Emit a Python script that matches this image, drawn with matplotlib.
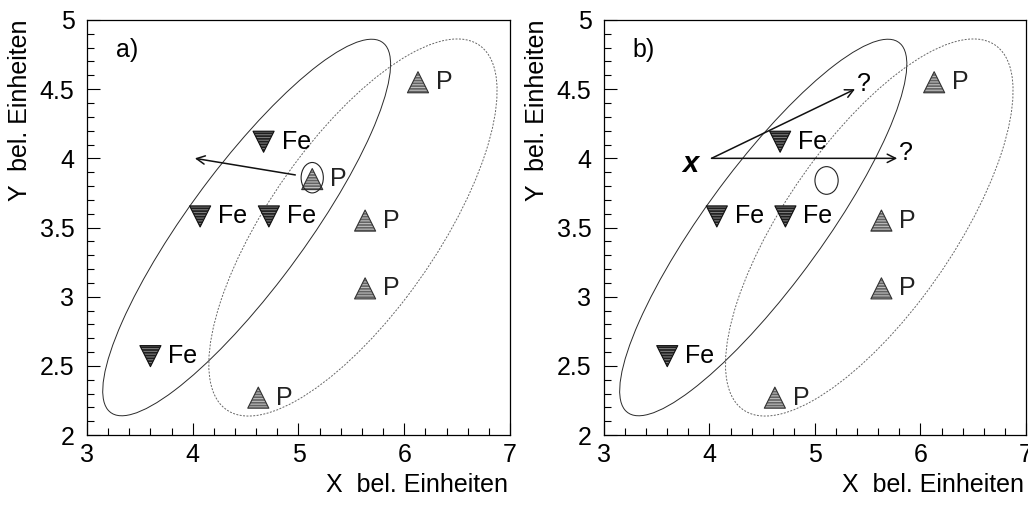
import matplotlib
matplotlib.use("Agg")
import matplotlib.pyplot as plt
from matplotlib.patches import Ellipse
from matplotlib.ticker import MultipleLocator

plt.rcParams['font.family'] = ['Liberation Sans', 'DejaVu Sans']
plt.rcParams['hatch.linewidth'] = 0.8

FS = 18

# event positions in the X/Y plane
fe_x = [4.67, 4.07, 4.72, 3.60]
fe_y = [4.12, 3.58, 3.58, 2.57]
p_x = [6.13, 5.13, 5.63, 5.63, 4.62]
p_y = [4.55, 3.85, 3.55, 3.06, 2.27]
# the second proton is the ambiguous one; it is left out in panel b
p_keep_b = [True, False, True, True, True]

# class regions: (center x, center y, width, height, angle)
fe_region = (4.51, 3.50, 3.72, 0.99, 45)
p_region = (5.515, 3.50, 3.58, 1.43, 45)

# test point and its two candidate directions
test_pt = (4.02, 4.00)
test_dirs = [(5.38, 4.50), (5.78, 4.00)]


def draw_panel(ax, tag, px, py):
    ax.set_xlim(3, 7)
    ax.set_ylim(2, 5)
    ax.xaxis.set_major_locator(MultipleLocator(1))
    ax.xaxis.set_minor_locator(MultipleLocator(0.2))
    ax.yaxis.set_minor_locator(MultipleLocator(0.1))
    ax.tick_params(which='both', direction='in', top=False, right=False,
                   labelsize=FS, width=0.8)
    ax.tick_params(which='major', length=9)
    ax.tick_params(which='minor', length=5)
    ax.tick_params(axis='x', pad=6)
    ax.tick_params(axis='y', pad=9)
    ax.set_yticks([2, 2.5, 3, 3.5, 4, 4.5, 5], ['2', '2.5', '3', '3.5', '4', '4.5', '5'])
    for s in ax.spines.values():
        s.set_linewidth(0.9)

    cx, cy, w, h, ang = fe_region
    ax.add_patch(Ellipse((cx, cy), w, h, angle=ang, fill=False,
                         edgecolor='#2a2a2a', linewidth=0.7))
    cx, cy, w, h, ang = p_region
    ax.add_patch(Ellipse((cx, cy), w, h, angle=ang, fill=False,
                         edgecolor='#666666', linewidth=0.7, linestyle=(0, (2, 1.5))))

    ax.scatter(fe_x, fe_y, marker='v', s=230, facecolor='#1e1e1e',
               edgecolor='#7a7a7a', hatch='------', linewidth=0, zorder=3)
    ax.scatter(fe_x, fe_y, marker='v', s=230, facecolor='none',
               edgecolor='#111111', linewidth=0.8, zorder=4)
    ax.scatter(px, py, marker='^', s=230, facecolor='#636363',
               edgecolor='#bdbdbd', hatch='------', linewidth=0, zorder=3)
    ax.scatter(px, py, marker='^', s=230, facecolor='none',
               edgecolor='#333333', linewidth=0.8, zorder=4)

    for x, y in zip(fe_x, fe_y):
        ax.annotate('Fe', (x, y), xytext=(13, 0), textcoords='offset points',
                    fontsize=FS, va='center', ha='left')
    for x, y in zip(px, py):
        ax.annotate('P', (x, y), xytext=(13, 0), textcoords='offset points',
                    fontsize=FS, va='center', ha='left', color='#222222')

    ax.text(3.27, 4.78, tag, fontsize=FS, ha='left', va='center')
    ax.text(-0.158, 1.0, 'Y  bel. Einheiten', transform=ax.transAxes,
            rotation=90, ha='center', va='top', fontsize=FS)
    ax.text(0.995, -0.12, 'X  bel. Einheiten', transform=ax.transAxes,
            ha='right', va='center', fontsize=FS)


fig = plt.figure(figsize=(10.28, 5.05), dpi=100)
ax_a = fig.add_axes([0.0846, 0.1386, 0.4115, 0.8218])
ax_b = fig.add_axes([0.5875, 0.1386, 0.4105, 0.8218])

draw_panel(ax_a, 'a)', p_x, p_y)
ax_a.add_patch(Ellipse((p_x[1], p_y[1] + 0.01), 0.21, 0.22, fill=False,
                       edgecolor='#222222', linewidth=0.8, zorder=5))
ax_a.annotate('', xy=(4.02, 4.00), xytext=(4.97, 3.88),
              arrowprops=dict(arrowstyle='->', color='#111111', lw=1.1,
                              shrinkA=0, shrinkB=0, mutation_scale=15))

pb_x = [x for x, k in zip(p_x, p_keep_b) if k]
pb_y = [y for y, k in zip(p_y, p_keep_b) if k]
draw_panel(ax_b, 'b)', pb_x, pb_y)
ax_b.add_patch(Ellipse((5.11, 3.84), 0.22, 0.20, fill=False, edgecolor='#222222',
                       linewidth=0.8, zorder=5))
ax_b.text(3.815, 3.96, 'x', fontsize=21, fontstyle='italic', fontweight='bold',
          ha='center', va='center')
for tx, ty in test_dirs:
    ax_b.annotate('', xy=(tx, ty), xytext=test_pt,
                  arrowprops=dict(arrowstyle='->', color='#111111', lw=1.1,
                                  shrinkA=0, shrinkB=0, mutation_scale=15))
    ax_b.text(tx + 0.02, ty + 0.04, '?', fontsize=FS, ha='left', va='center')

fig.savefig('out.png', dpi=100)
